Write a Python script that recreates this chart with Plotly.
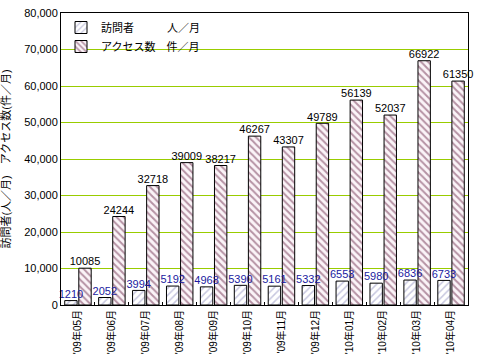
import plotly.graph_objects as go

months = ["'09年05月", "'09年06月", "'09年07月", "'09年08月", "'09年09月", "'09年10月",
          "'09年11月", "'09年12月", "'10年01月", "'10年02月", "'10年03月", "'10年04月"]
visitors = [1210, 2052, 3994, 5192, 4968, 5390, 5161, 5332, 6553, 5980, 6836, 6733]
access = [10085, 24244, 32718, 39009, 38217, 46267, 43307, 49789, 56139, 52037, 66922, 61350]

FONT = "Liberation Sans, Noto Sans CJK JP, sans-serif"

fig = go.Figure()
fig.add_trace(go.Bar(
    x=months, y=visitors, name="訪問者　　　人／月", offsetgroup="v",
    marker=dict(color="white", line=dict(color="black", width=1),
                pattern=dict(shape="/", fgcolor="#8f8fc0", bgcolor="white", size=5, solidity=0.3)),
))
fig.add_trace(go.Bar(
    x=months, y=access, name="アクセス数　件／月", offsetgroup="a",
    marker=dict(color="white", line=dict(color="black", width=1),
                pattern=dict(shape="\\", fgcolor="#703050", bgcolor="#fbf4f8", size=5, solidity=0.4)),
))
# value labels drawn on top of all bars
fig.add_trace(go.Scatter(
    x=months, y=visitors, mode="text", offsetgroup="v", showlegend=False,
    text=[str(v) for v in visitors], textposition="top center",
    textfont=dict(color="#1a1aa0", size=11, family=FONT), cliponaxis=False, hoverinfo="skip",
))
fig.add_trace(go.Scatter(
    x=months, y=access, mode="text", offsetgroup="a", showlegend=False,
    text=[str(v) for v in access], textposition="top center",
    textfont=dict(color="black", size=11, family=FONT), cliponaxis=False, hoverinfo="skip",
))

fig.update_layout(
    width=478, height=360,
    margin=dict(l=61, r=10, t=13, b=55, autoexpand=False),
    paper_bgcolor="white", plot_bgcolor="white",
    barmode="group", bargap=0.17, bargroupgap=0.12,
    scattermode="group", scattergap=0.17,
    font=dict(family=FONT, size=11, color="black"),
    showlegend=True,
    legend=dict(x=0.0, y=1.0, xanchor="left", yanchor="top", bgcolor="rgba(0,0,0,0)",
                font=dict(size=11, family=FONT), tracegroupgap=0),
    xaxis=dict(tickangle=-90, showline=True, linecolor="black", linewidth=1, mirror=True,
               ticks="inside", ticklen=3, tickson="boundaries", tickcolor="black",
               tickfont=dict(size=10, family=FONT), automargin=False),
    yaxis=dict(range=[0, 80000], dtick=10000, tickformat=",d", showgrid=True,
               gridcolor="#99cc00", gridwidth=1, showline=True, linecolor="black",
               linewidth=1, mirror=True, zeroline=False, ticks="", automargin=False,
               ticklabeloverflow="allow",
               tickfont=dict(size=11, family=FONT),
               title=dict(text="訪問者(人／月)　アクセス数(件／月)", font=dict(size=11, family=FONT),
                          standoff=12)),
)

fig.write_html("out.html", config={"displayModeBar": False},
               post_script="document.body.style.margin='0';")
